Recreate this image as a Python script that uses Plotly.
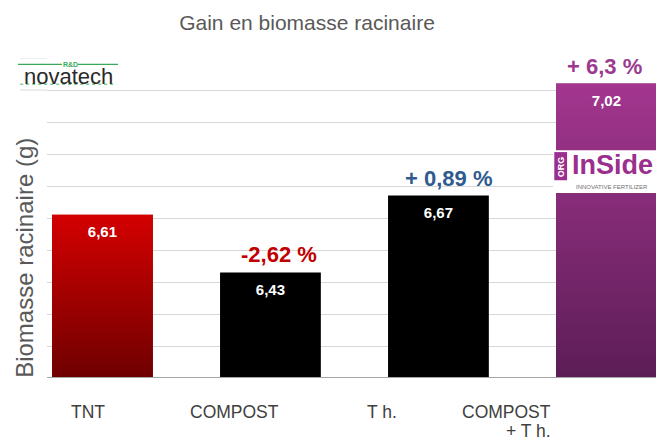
import plotly.graph_objects as go

# ---- data ----
categories = ["TNT", "COMPOST", "T h.", "COMPOST<br>+ T h."]
values = [6.61, 6.43, 6.67, 7.02]
value_labels = ["6,61", "6,43", "6,67", "7,02"]
gain_labels = ["", "-2,62 %", "+ 0,89 %", "+ 6,3 %"]

# ---- style ----
y_min, y_max = 6.1, 7.1
bar_w = 0.6
base_colors = ["#a00000", "#000000", "#000000", "#7e2a76"]
gradients = {0: ("#6e0000", "#d40000"), 3: ("#5c1d56", "#a3368f")}
gain_colors = ["#c00000", "#c00000", "#2f5b8e", "#9b3a8f"]
gain_xshift = [0, 9, 10, -2]
label_x = [-0.086, 0.789, 1.664, 2.682]
FONT = "Liberation Sans, Arial, sans-serif"

fig = go.Figure()

fig.add_trace(go.Bar(
    x=list(range(len(categories))), y=[v - y_min for v in values], base=y_min,
    width=bar_w, marker=dict(color=base_colors, line=dict(width=0)),
    hovertext=[c.replace("<br>", " ") for c in categories], hoverinfo="text",
    showlegend=False,
))

for i, (lo, hi) in gradients.items():
    v = values[i]
    fig.add_trace(go.Scatter(
        x=[i - bar_w / 2, i + bar_w / 2, i + bar_w / 2, i - bar_w / 2, i - bar_w / 2],
        y=[y_min, y_min, v, v, y_min],
        mode="lines", line=dict(width=0), fill="toself",
        fillgradient=dict(type="vertical", colorscale=[[0, lo], [1, hi]]),
        hoverinfo="skip", showlegend=False,
    ))

fig.add_trace(go.Scatter(
    x=list(range(len(categories))), y=values, mode="markers+text",
    marker=dict(size=16, color="rgba(0,0,0,0)"),
    text=value_labels, textposition="bottom center",
    textfont=dict(family=FONT, size=15, color="white", weight="bold"),
    hoverinfo="skip", showlegend=False, cliponaxis=False,
))

annotations = []
# gain labels above bars
for i, (g, col, xs) in enumerate(zip(gain_labels, gain_colors, gain_xshift)):
    if not g:
        continue
    annotations.append(dict(
        x=i, y=values[i], xref="x", yref="y", xanchor="center", yanchor="bottom",
        xshift=xs, yshift=3, text=f"<b>{g}</b>", showarrow=False,
        font=dict(family=FONT, size=22, color=col),
    ))
# category labels (one annotation per line, multi-line right aligned)
for lx, c in zip(label_x, categories):
    lines = c.split("<br>")
    for k, line in enumerate(lines):
        annotations.append(dict(
            x=lx, y=0, xref="x", yref="paper", yanchor="top",
            xanchor="center" if len(lines) == 1 else "right",
            yshift=-22 - 19 * k, text=line, showarrow=False,
            font=dict(family=FONT, size=17.5, color="#404040"),
        ))
# y axis title
annotations.append(dict(
    x=-0.038, y=0.375, xref="paper", yref="paper", text="Biomasse racinaire (g)",
    textangle=-90, showarrow=False, xanchor="center", yanchor="middle",
    font=dict(family=FONT, size=24, color="#595959"),
))
# novatech logo
annotations += [
    dict(x=0.0345, y=0.942, xref="paper", yref="paper", text="novatech", showarrow=False,
         xanchor="center", yanchor="middle",
         font=dict(family="Liberation Sans, Arial", size=22, color="#2a2a2a")),
    dict(x=0.038, y=0.98, xref="paper", yref="paper", text="<b>R&amp;D</b>", showarrow=False,
         xanchor="center", yanchor="middle",
         font=dict(family="Liberation Sans, Arial", size=7, color="#3aaa5a")),
]
# InSide logo
annotations += [
    dict(x=0.928, y=0.665, xref="paper", yref="paper", text="<b>InSide</b>", showarrow=False,
         xanchor="center", yanchor="middle",
         font=dict(family="Liberation Sans, Arial", size=27, color="#9b2f8e")),
    dict(x=0.928, y=0.596, xref="paper", yref="paper", text="INNOVATIVE FERTILIZER", showarrow=False,
         xanchor="center", yanchor="middle",
         font=dict(family="Liberation Sans, Arial", size=6, color="#707070")),
    dict(x=0.843, y=0.66, xref="paper", yref="paper", text="<b>ORG</b>", showarrow=False,
         textangle=-90, xanchor="center", yanchor="middle",
         font=dict(family="Liberation Sans, Arial", size=9, color="white")),
]

shapes = [
    # white logo panel on last bar
    dict(type="rect", xref="paper", yref="paper", x0=0.831, x1=1.0, y0=0.578, y1=0.712,
         fillcolor="white", line=dict(width=0), layer="above"),
    dict(type="rect", xref="paper", yref="paper", x0=0.833, x1=0.854, y0=0.618, y1=0.706,
         fillcolor="#9b2f8e", line=dict(width=0), layer="above"),
    # extended top gridlines near logo
    dict(type="line", xref="paper", yref="y", x0=-0.044, x1=0, y0=7.1, y1=7.1,
         line=dict(color="#d9d9d9", width=1), layer="below"),
    dict(type="line", xref="paper", yref="y", x0=-0.044, x1=0, y0=7.0, y1=7.0,
         line=dict(color="#d9d9d9", width=1), layer="below"),
    # novatech green swoosh and tagline
    dict(type="line", xref="paper", yref="paper", x0=-0.0476, x1=0.0246, y0=0.98, y1=0.98,
         line=dict(color="#3aaa5a", width=1.2), layer="above"),
    dict(type="line", xref="paper", yref="paper", x0=0.0509, x1=0.1166, y0=0.98, y1=0.98,
         line=dict(color="#3aaa5a", width=1.2), layer="above"),
    dict(type="line", xref="paper", yref="paper", x0=-0.044, x1=0.114, y0=0.918, y1=0.918,
         line=dict(color="#7ccf8f", width=1.5, dash="dot"), layer="above"),
]

fig.update_layout(
    width=656, height=442,
    margin=dict(l=47, r=0, t=58, b=64),
    paper_bgcolor="white", plot_bgcolor="white",
    title=dict(text="Gain en biomasse racinaire", x=0.468, xanchor="center",
               y=0.948, yanchor="middle", xref="container", yref="container",
               font=dict(family=FONT, size=21, color="#595959")),
    xaxis=dict(range=[-0.33, 3.295], showticklabels=False, showgrid=False,
               zeroline=False, ticks="", showline=False, fixedrange=True),
    yaxis=dict(range=[y_min, y_max], tick0=y_min, dtick=0.1, showticklabels=False,
               showgrid=True, gridcolor="#d9d9d9", gridwidth=1, zeroline=False,
               showline=False, ticks="", fixedrange=True),
    annotations=annotations, shapes=shapes,
    showlegend=False,
)
# bottom axis line
fig.add_shape(type="line", xref="paper", yref="y", x0=0, x1=1, y0=y_min, y1=y_min,
              line=dict(color="#a6a6a6", width=2), layer="above")

fig.write_html("out.html", config={"displayModeBar": False},
               post_script="document.body.style.margin='0';document.body.style.overflow='hidden';")
